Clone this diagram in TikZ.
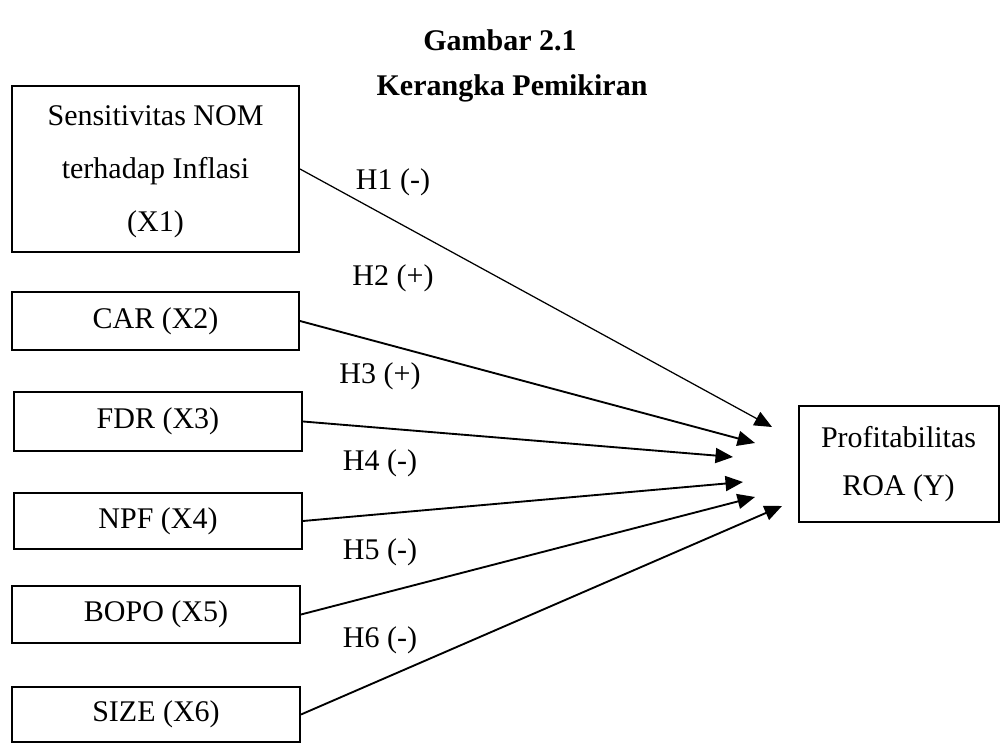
\documentclass[tikz,border=0pt]{standalone}
\usepackage{fontspec}
\setmainfont{Liberation Serif}
\usetikzlibrary{arrows.meta}
\begin{document}
\begin{tikzpicture}[x=0.4pt,y=-0.4pt,
  font=\fontsize{12}{21.2}\selectfont,
  box/.style={draw,line width=0.8pt,inner sep=0pt,align=center},
  conn/.style={line width=0.75pt,-{Triangle[length=7pt,width=6pt]}},
  lab/.style={inner sep=0pt}]
\useasboundingbox (0,0) rectangle (1000,744);
\node[font=\fontsize{12}{14}\bfseries] (t1) at (500,40) {Gambar 2.1};
\node[font=\fontsize{12}{14}\bfseries] (t2) at (512,88) {Kerangka Pemikiran};
\node[box,minimum width=287*0.4pt,minimum height=166*0.4pt] (x1) at (155.5,169) {};
\node[inner sep=0pt,align=center] (x1text) at (155.5,172) {Sensitivitas NOM\\terhadap Inflasi\\(X1)};
\node[box,minimum width=287*0.4pt,minimum height=58*0.4pt] (x2) at (155.5,321) {CAR (X2)};
\node[box,minimum width=288*0.4pt,minimum height=59*0.4pt] (x3) at (158,421.5) {FDR (X3)};
\node[box,minimum width=288*0.4pt,minimum height=56*0.4pt] (x4) at (158,521) {NPF (X4)};
\node[box,minimum width=288*0.4pt,minimum height=57*0.4pt] (x5) at (156,614.5) {BOPO (X5)};
\node[box,minimum width=288*0.4pt,minimum height=55*0.4pt] (x6) at (156,714.5) {SIZE (X6)};
\node[box,font=\fontsize{12}{19.2}\selectfont,minimum width=200*0.4pt,minimum height=116*0.4pt] (y) at (898.5,464) {Profitabilitas\\ROA (Y)};
\coordinate (e1) at (772,427);
\coordinate (e2) at (755,443);
\coordinate (e3) at (733,457);
\coordinate (e4) at (743,482);
\coordinate (e5) at (755,497);
\coordinate (e6) at (782,506);
\draw[conn,line width=0.5pt] (x1.east) -- (e1);
\draw[conn] (x2.east) -- (e2);
\draw[conn] (x3.east) -- (e3);
\draw[conn] (x4.east) -- (e4);
\draw[conn] (x5.east) -- (e5);
\draw[conn] (x6.east) -- (e6);
\node[lab] (h1) at (393,182) {H1 (-)};
\node[lab] (h2) at (393,278) {H2 (+)};
\node[lab] (h3) at (380,376) {H3 (+)};
\node[lab] (h4) at (380,463) {H4 (-)};
\node[lab] (h5) at (380,552) {H5 (-)};
\node[lab] (h6) at (380,640) {H6 (-)};
\end{tikzpicture}
\end{document}
